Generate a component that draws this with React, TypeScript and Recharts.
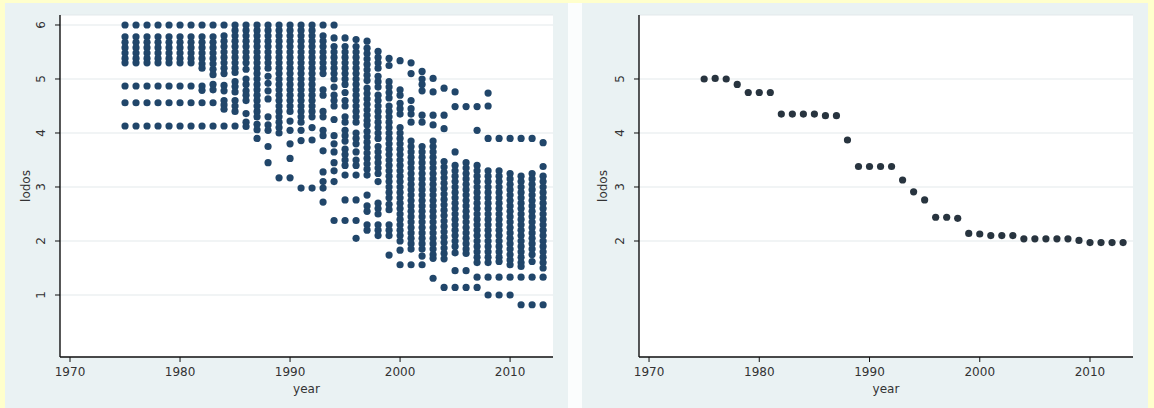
import { CartesianGrid, Scatter, ScatterChart, XAxis, YAxis } from "recharts";

const years = [
  1975, 1976, 1977, 1978, 1979, 1980, 1981, 1982, 1983, 1984, 1985, 1986, 1987,
  1988, 1989, 1990, 1991, 1992, 1993, 1994, 1995, 1996, 1997, 1998, 1999, 2000,
  2001, 2002, 2003, 2004, 2005, 2006, 2007, 2008, 2009, 2010, 2011, 2012, 2013,
];

// every observation of lodos, one list per year (left panel)
const lodosByYear: number[][] = [
  [6.0, 5.78, 5.68, 5.58, 5.48, 5.38, 5.3, 4.87, 4.56, 4.13],
  [6.0, 5.78, 5.68, 5.58, 5.48, 5.38, 5.3, 4.87, 4.56, 4.13],
  [6.0, 5.78, 5.68, 5.58, 5.48, 5.38, 5.3, 4.87, 4.56, 4.13],
  [6.0, 5.78, 5.68, 5.58, 5.48, 5.38, 5.3, 4.87, 4.56, 4.13],
  [6.0, 5.78, 5.68, 5.58, 5.48, 5.38, 5.3, 4.87, 4.56, 4.13],
  [6.0, 5.78, 5.68, 5.58, 5.48, 5.38, 5.3, 4.87, 4.56, 4.13],
  [6.0, 5.78, 5.68, 5.58, 5.48, 5.38, 5.3, 4.87, 4.56, 4.13],
  [6.0, 5.78, 5.68, 5.58, 5.48, 5.38, 5.28, 5.2, 4.87, 4.79, 4.56, 4.13],
  [6.0, 5.78, 5.68, 5.58, 5.48, 5.38, 5.28, 5.18, 5.08, 4.9, 4.8, 4.56, 4.13],
  [6.0, 5.8, 5.7, 5.6, 5.5, 5.4, 5.3, 5.2, 5.1, 4.88, 4.78, 4.6, 4.52, 4.44, 4.13],
  [6.0, 5.9, 5.8, 5.7, 5.6, 5.5, 5.4, 5.3, 5.2, 5.12, 4.95, 4.86, 4.76, 4.6, 4.5, 4.4, 4.13],
  [6.0, 5.9, 5.8, 5.7, 5.6, 5.5, 5.4, 5.3, 5.18, 5.0, 4.9, 4.78, 4.7, 4.6, 4.36, 4.2, 4.12],
  [6.0, 5.9, 5.8, 5.7, 5.6, 5.5, 5.4, 5.3, 5.2, 5.1, 5.0, 4.9, 4.8, 4.7, 4.6, 4.5, 4.4, 4.3, 4.16, 4.06, 3.9],
  [6.0, 5.9, 5.8, 5.7, 5.6, 5.5, 5.4, 5.3, 5.2, 5.05, 4.92, 4.78, 4.63, 4.3, 4.15, 4.05, 3.75, 3.45],
  [6.0, 5.9, 5.8, 5.7, 5.6, 5.5, 5.4, 5.3, 5.2, 5.1, 5.0, 4.9, 4.8, 4.7, 4.6, 4.5, 4.4, 4.3, 4.2, 4.1, 4.0, 3.17],
  [6.0, 5.9, 5.8, 5.7, 5.6, 5.5, 5.4, 5.3, 5.2, 5.1, 5.0, 4.9, 4.8, 4.7, 4.6, 4.5, 4.4, 4.22, 4.05, 3.8, 3.53, 3.17],
  [6.0, 5.9, 5.8, 5.7, 5.6, 5.5, 5.4, 5.3, 5.2, 5.1, 5.0, 4.9, 4.8, 4.7, 4.6, 4.5, 4.4, 4.3, 4.2, 4.05, 3.86, 2.98],
  [6.0, 5.9, 5.8, 5.7, 5.6, 5.5, 5.4, 5.3, 5.2, 5.1, 5.0, 4.9, 4.8, 4.7, 4.6, 4.5, 4.4, 4.3, 4.1, 3.87, 2.98],
  [6.0, 5.8, 5.7, 5.6, 5.5, 5.4, 5.3, 5.2, 5.1, 4.8, 4.7, 4.4, 4.3, 4.05, 3.95, 3.67, 3.28, 3.1, 2.98, 2.72],
  [6.0, 5.76, 5.6, 5.5, 5.4, 5.3, 5.2, 5.1, 5.0, 4.85, 4.7, 4.6, 4.5, 4.25, 3.95, 3.8, 3.65, 3.45, 3.3, 3.1, 2.38],
  [5.76, 5.6, 5.5, 5.4, 5.3, 5.2, 5.1, 5.0, 4.9, 4.75, 4.6, 4.5, 4.3, 4.2, 4.05, 3.95, 3.85, 3.7, 3.6, 3.5, 3.4, 3.22, 2.76, 2.38],
  [5.73, 5.6, 5.5, 5.4, 5.3, 5.2, 5.1, 5.0, 4.9, 4.8, 4.7, 4.6, 4.5, 4.4, 4.3, 4.2, 4.0, 3.9, 3.8, 3.65, 3.5, 3.4, 3.22, 2.76, 2.38, 2.05],
  [5.7, 5.57, 5.47, 5.37, 5.27, 5.17, 5.07, 4.97, 4.83, 4.73, 4.63, 4.53, 4.43, 4.33, 4.23, 4.15, 4.03, 3.93, 3.83, 3.73, 3.63, 3.53, 3.43, 3.33, 3.22, 2.85, 2.65, 2.55, 2.3, 2.2],
  [5.51, 5.4, 5.3, 5.2, 5.05, 4.95, 4.85, 4.7, 4.6, 4.5, 4.4, 4.3, 4.2, 4.1, 4.0, 3.9, 3.75, 3.65, 3.55, 3.45, 3.35, 3.25, 3.1, 2.7, 2.6, 2.5, 2.3, 2.2, 2.1],
  [5.38, 5.25, 4.95, 4.85, 4.75, 4.65, 4.5, 4.4, 4.3, 4.2, 4.1, 4.0, 3.9, 3.8, 3.7, 3.6, 3.5, 3.4, 3.3, 3.2, 3.1, 3.0, 2.9, 2.8, 2.68, 2.58, 2.3, 2.2, 2.1, 1.74],
  [5.34, 4.8, 4.7, 4.55, 4.45, 4.35, 4.1, 4.0, 3.9, 3.8, 3.7, 3.6, 3.5, 3.4, 3.3, 3.2, 3.1, 3.0, 2.9, 2.8, 2.7, 2.6, 2.5, 2.4, 2.3, 2.2, 2.1, 2.0, 1.83, 1.56],
  [5.3, 5.1, 4.6, 4.45, 4.35, 4.2, 3.85, 3.75, 3.65, 3.55, 3.45, 3.35, 3.25, 3.15, 3.05, 2.95, 2.85, 2.75, 2.65, 2.55, 2.45, 2.35, 2.25, 2.15, 2.05, 1.95, 1.85, 1.56],
  [5.14, 5.0, 4.9, 4.78, 4.33, 4.2, 3.75, 3.65, 3.55, 3.45, 3.35, 3.25, 3.15, 3.05, 2.95, 2.85, 2.75, 2.65, 2.55, 2.45, 2.35, 2.25, 2.15, 2.05, 1.95, 1.85, 1.72, 1.56],
  [5.01, 4.76, 4.33, 4.15, 3.85, 3.75, 3.65, 3.55, 3.45, 3.35, 3.25, 3.15, 3.05, 2.95, 2.85, 2.75, 2.65, 2.55, 2.45, 2.35, 2.25, 2.15, 2.05, 1.95, 1.85, 1.75, 1.68, 1.31],
  [4.83, 4.33, 4.08, 3.47, 3.37, 3.27, 3.17, 3.07, 2.97, 2.87, 2.77, 2.67, 2.57, 2.47, 2.37, 2.27, 2.17, 2.07, 1.97, 1.87, 1.77, 1.67, 1.14],
  [4.76, 4.49, 3.65, 3.4, 3.3, 3.2, 3.1, 3.0, 2.9, 2.8, 2.7, 2.6, 2.5, 2.4, 2.3, 2.2, 2.1, 2.0, 1.9, 1.78, 1.45, 1.14],
  [4.49, 3.45, 3.35, 3.25, 3.15, 3.05, 2.95, 2.85, 2.75, 2.65, 2.55, 2.45, 2.35, 2.25, 2.15, 2.05, 1.95, 1.85, 1.77, 1.45, 1.14],
  [4.49, 4.05, 3.4, 3.3, 3.2, 3.1, 3.0, 2.9, 2.8, 2.7, 2.6, 2.5, 2.4, 2.3, 2.2, 2.1, 2.0, 1.9, 1.8, 1.7, 1.6, 1.33, 1.14],
  [4.74, 4.5, 3.9, 3.3, 3.2, 3.1, 3.0, 2.9, 2.8, 2.7, 2.6, 2.5, 2.4, 2.3, 2.2, 2.1, 2.0, 1.9, 1.8, 1.7, 1.6, 1.33, 1.0],
  [3.9, 3.3, 3.2, 3.1, 3.0, 2.9, 2.8, 2.7, 2.6, 2.5, 2.4, 2.3, 2.2, 2.1, 2.0, 1.9, 1.8, 1.7, 1.62, 1.33, 1.0],
  [3.9, 3.25, 3.15, 3.05, 2.95, 2.85, 2.75, 2.65, 2.55, 2.45, 2.35, 2.25, 2.15, 2.05, 1.95, 1.85, 1.75, 1.65, 1.56, 1.33, 1.0],
  [3.9, 3.2, 3.1, 3.0, 2.9, 2.8, 2.7, 2.6, 2.5, 2.4, 2.3, 2.2, 2.1, 2.0, 1.9, 1.8, 1.7, 1.6, 1.53, 1.33, 0.82],
  [3.9, 3.25, 3.15, 3.05, 2.95, 2.85, 2.75, 2.65, 2.55, 2.45, 2.35, 2.25, 2.15, 2.05, 1.95, 1.85, 1.75, 1.62, 1.33, 0.82],
  [3.82, 3.38, 3.2, 3.1, 3.0, 2.9, 2.8, 2.7, 2.6, 2.5, 2.4, 2.3, 2.2, 2.1, 2.0, 1.9, 1.8, 1.7, 1.6, 1.5, 1.33, 0.82],
];

// one value per year (right panel)
const lodosYearly = [
  5.0, 5.01, 5.0, 4.9, 4.75, 4.75, 4.75, 4.35, 4.35, 4.35, 4.35, 4.32, 4.32,
  3.87, 3.38, 3.38, 3.38, 3.38, 3.13, 2.91, 2.76, 2.44, 2.44, 2.42, 2.14, 2.13,
  2.1, 2.1, 2.1, 2.04, 2.04, 2.04, 2.04, 2.04, 2.01, 1.97, 1.97, 1.97, 1.97,
];

const xTicks = [1970, 1980, 1990, 2000, 2010];
const leftYTicks = [1, 2, 3, 4, 5, 6];
const rightYTicks = [2, 3, 4, 5];

const FONT = "DejaVu Sans";
const TEXT = "#333";

const leftPoints = years.flatMap((yr, i) =>
  lodosByYear[i].map((v) => ({ year: yr, lodos: v }))
);
const rightPoints = years.map((yr, i) => ({ year: yr, lodos: lodosYearly[i] }));

function Dot(color: string) {
  return (props: any) => <circle cx={props.cx} cy={props.cy} r={3.6} fill={color} />;
}

function Panel({
  width,
  left,
  points,
  yTicks,
  color,
  labelOffset,
}: {
  width: number;
  left: number;
  points: { year: number; lodos: number }[];
  yTicks: number[];
  color: string;
  labelOffset: number;
}) {
  return (
    <ScatterChart
      width={width}
      height={405}
      margin={{ top: 12, right: 15, bottom: 5, left }}
    >
      <CartesianGrid vertical={false} fill="#fff" stroke="#e3e9eb" />
      <XAxis
        type="number"
        dataKey="year"
        domain={[1969.09, 2013.9]}
        ticks={xTicks}
        interval={0}
        allowDataOverflow
        height={46}
        tickSize={5}
        tickMargin={5}
        axisLine={{ stroke: "#111", strokeWidth: 1.4 }}
        tickLine={{ stroke: "#111" }}
        tick={{ fill: TEXT, fontSize: 12, fontFamily: FONT }}
        label={{
          value: "year",
          position: "insideBottom",
          offset: 10,
          fill: TEXT,
          fontSize: 12,
          fontFamily: FONT,
        }}
      />
      <YAxis
        type="number"
        dataKey="lodos"
        domain={[-0.148, 6.185]}
        ticks={yTicks}
        interval={0}
        allowDataOverflow
        width={50}
        tickSize={5}
        tickMargin={14}
        axisLine={{ stroke: "#111", strokeWidth: 1.4 }}
        tickLine={{ stroke: "#111" }}
        tick={{
          angle: -90,
          textAnchor: "middle",
          verticalAnchor: "middle",
          fill: TEXT,
          fontSize: 12,
          fontFamily: FONT,
        }}
        label={{
          value: "lodos",
          angle: -90,
          position: "insideLeft",
          offset: labelOffset,
          fill: TEXT,
          fontSize: 12,
          fontFamily: FONT,
          style: { textAnchor: "middle" },
        }}
      />
      <Scatter data={points} fill={color} shape={Dot(color)} isAnimationActive={false} />
    </ScatterChart>
  );
}

export default function App() {
  return (
    <div
      style={{
        position: "absolute",
        left: 0,
        top: 0,
        width: 1154,
        height: 408,
        background: "#ffffcc",
        overflow: "hidden",
      }}
    >
      <div
        style={{
          position: "absolute",
          left: 5,
          top: 3,
          width: 1143,
          height: 405,
          background: "#fbfdfd",
        }}
      />
      <div style={{ position: "absolute", left: 5, top: 3, background: "#eaf2f3" }}>
        <Panel
          width={563}
          left={5}
          points={leftPoints}
          yTicks={leftYTicks}
          color="#21466a"
          labelOffset={16}
        />
      </div>
      <div style={{ position: "absolute", left: 582, top: 3, background: "#eaf2f3" }}>
        <Panel
          width={566}
          left={7}
          points={rightPoints}
          yTicks={rightYTicks}
          color="#28343f"
          labelOffset={14}
        />
      </div>
    </div>
  );
}
